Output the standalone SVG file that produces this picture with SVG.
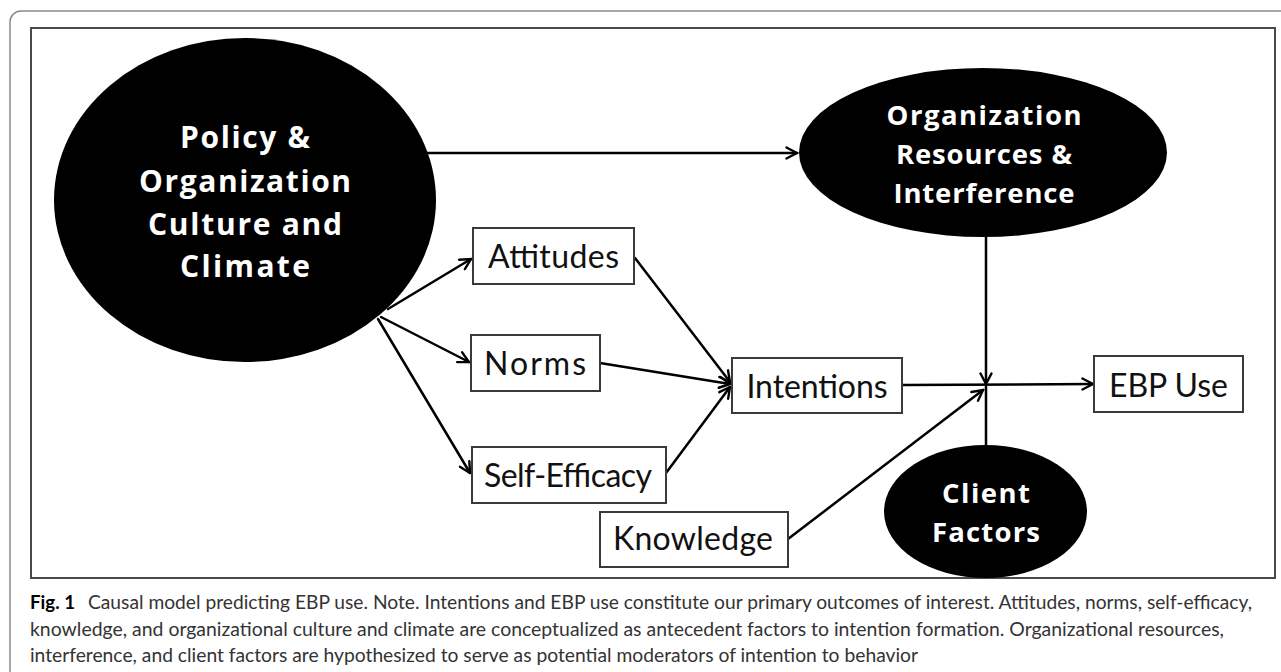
<svg xmlns="http://www.w3.org/2000/svg" width="1281" height="672" viewBox="0 0 1281 672">
  <style>
    .frame { fill: none; stroke: #8a8a8a; stroke-width: 1.5; }
    .panel { fill: #ffffff; stroke: #4a4a4a; stroke-width: 2; }
    .dark { fill: #000000; }
    .box { fill: #ffffff; stroke: #3a3a3a; stroke-width: 2; }
    .wlabel { font-family: "Open Sans", Lato, "Liberation Sans", sans-serif; font-weight: 700; fill: #ffffff; text-anchor: middle; }
    .big { font-size: 30px; }
    .mid { font-size: 27.5px; }
    .blabel { font-family: Lato, "Open Sans", "Liberation Sans", sans-serif; font-weight: 400; font-size: 32px; fill: #111111; text-anchor: middle; }
    .edge { fill: none; stroke: #000000; stroke-width: 2.5; stroke-linecap: round; }
    .caption { font-family: Lato, "Noto Sans", "Liberation Sans", sans-serif; font-size: 18.5px; fill: #333333; }
    .caption .fig { font-weight: 700; fill: #000000; }
  </style>
  <defs>
    <marker id="open-arrow" viewBox="0 0 14 14" refX="12.5" refY="7" markerWidth="14" markerHeight="14" markerUnits="userSpaceOnUse" orient="auto">
      <path d="M2,1.5 L12.5,7 L2,12.5" fill="none" stroke="#000000" stroke-width="2.4" stroke-linejoin="miter" stroke-linecap="round"/>
    </marker>
  </defs>

  <!-- page frame and figure panel -->
  <rect class="frame" x="10" y="11" width="1320" height="720" rx="11" ry="11"/>
  <rect class="panel" x="31" y="28" width="1244" height="550"/>

  <!-- connectors -->
  <g id="connectors">
    <path class="edge" d="M427,153 L797,153" marker-end="url(#open-arrow)"/>
    <path class="edge" d="M388,309 L471,259" marker-end="url(#open-arrow)"/>
    <path class="edge" d="M381,317 L469,362" marker-end="url(#open-arrow)"/>
    <path class="edge" d="M378,319 L470,473" marker-end="url(#open-arrow)"/>
    <path class="edge" d="M635,258 L730,382" marker-end="url(#open-arrow)"/>
    <path class="edge" d="M600,363 L730,384" marker-end="url(#open-arrow)"/>
    <path class="edge" d="M666,473 L730,387" marker-end="url(#open-arrow)"/>
    <path class="edge" d="M986,237 L986,384" marker-end="url(#open-arrow)"/>
    <path class="edge" d="M902,385 L1093,384" marker-end="url(#open-arrow)"/>
    <path class="edge" d="M788,539 L983,390" marker-end="url(#open-arrow)"/>
    <path class="edge" d="M986,445 L986,386"/>
  </g>

  <!-- latent constructs -->
  <g id="policy-culture">
    <ellipse class="dark" cx="245" cy="200" rx="191" ry="162"/>
    <text class="wlabel big" x="245" y="148" textLength="130">Policy &amp;</text>
    <text class="wlabel big" x="245" y="192" textLength="212">Organization</text>
    <text class="wlabel big" x="245" y="235" textLength="194">Culture and</text>
    <text class="wlabel big" x="245" y="277" textLength="130">Climate</text>
  </g>

  <g id="org-resources">
    <ellipse class="dark" cx="983" cy="152.5" rx="184" ry="84.5"/>
    <text class="wlabel mid" x="984" y="125" textLength="195">Organization</text>
    <text class="wlabel mid" x="984" y="164" textLength="176">Resources &amp;</text>
    <text class="wlabel mid" x="984" y="203" textLength="181">Interference</text>
  </g>

  <g id="client-factors">
    <ellipse class="dark" cx="985.5" cy="511.5" rx="101.5" ry="66.5"/>
    <text class="wlabel mid" x="986" y="503" textLength="88">Client</text>
    <text class="wlabel mid" x="986" y="542" textLength="108">Factors</text>
  </g>

  <!-- observed measures -->
  <g id="attitudes">
    <rect class="box" x="473" y="228" width="161" height="56"/>
    <text class="blabel" x="553.5" y="268" textLength="131">Attitudes</text>
  </g>

  <g id="norms">
    <rect class="box" x="471" y="335" width="129" height="56"/>
    <text class="blabel" x="535" y="375" textLength="102">Norms</text>
  </g>

  <g id="self-efficacy">
    <rect class="box" x="472" y="447" width="194" height="56"/>
    <text class="blabel" x="568" y="487" textLength="168">Self-Efficacy</text>
  </g>

  <g id="knowledge">
    <rect class="box" x="600" y="512" width="188" height="55"/>
    <text class="blabel" x="693" y="550" textLength="160">Knowledge</text>
  </g>

  <g id="intentions">
    <rect class="box" x="732" y="358" width="170" height="55"/>
    <text class="blabel" x="817" y="398" textLength="141">Intentions</text>
  </g>

  <g id="ebp-use">
    <rect class="box" x="1094" y="356" width="149" height="56"/>
    <text class="blabel" x="1168.5" y="397" textLength="119">EBP Use</text>
  </g>

  <!-- figure caption -->
  <g id="caption" class="caption">
    <text x="30" y="609" textLength="45" lengthAdjust="spacingAndGlyphs"><tspan class="fig">Fig. 1</tspan></text>
    <text x="88" y="609" textLength="1164" lengthAdjust="spacingAndGlyphs">Causal model predicting EBP use. Note. Intentions and EBP use constitute our primary outcomes of interest. Attitudes, norms, self-efficacy,</text>
    <text x="30" y="636" textLength="1194" lengthAdjust="spacingAndGlyphs">knowledge, and organizational culture and climate are conceptualized as antecedent factors to intention formation. Organizational resources,</text>
    <text x="30" y="662" textLength="888" lengthAdjust="spacingAndGlyphs">interference, and client factors are hypothesized to serve as potential moderators of intention to behavior</text>
  </g>
</svg>
